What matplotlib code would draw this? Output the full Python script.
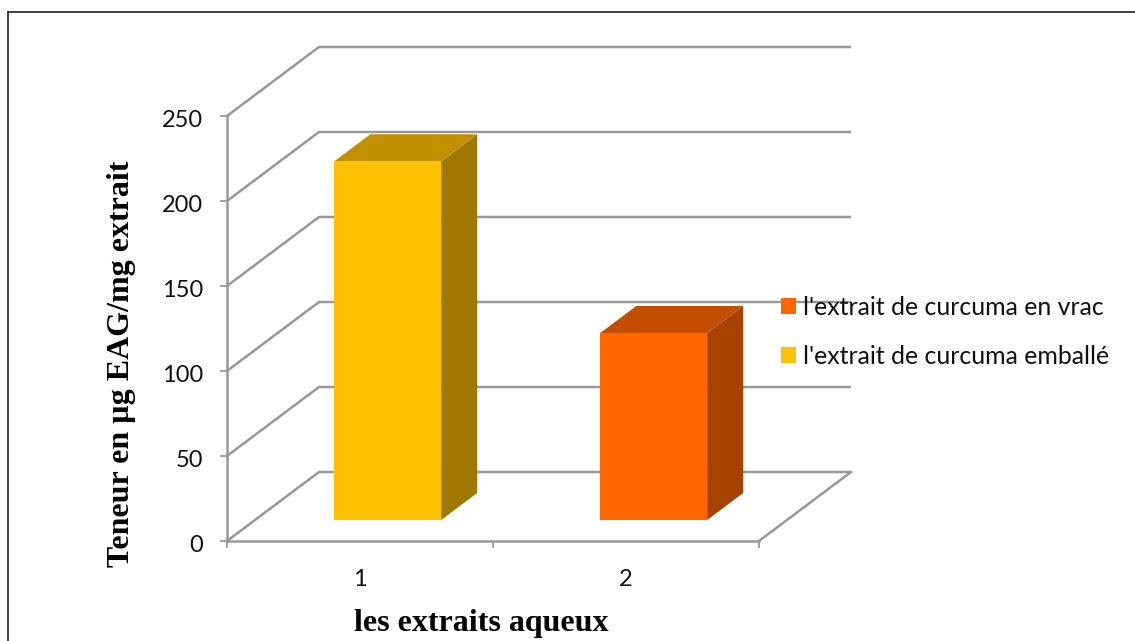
import matplotlib
matplotlib.use('Agg')
import matplotlib.pyplot as plt
from matplotlib.patches import Polygon, Patch
from matplotlib.lines import Line2D
from matplotlib.transforms import ScaledTranslation

categories = ['1', '2']
series_names = ["l'extrait de curcuma en vrac", "l'extrait de curcuma emballé"]
emballe = 211
vrac = 110
y_ticks = [0, 50, 100, 150, 200, 250]

W, H = 1135, 641
grey = '#999999'

fig = plt.figure(figsize=(W / 100, H / 100), dpi=100)
fig.patch.set_facecolor('white')
ax = fig.add_axes([227 / W, 1 - 541 / H, 532 / W, 425 / H])
ax.set_xlim(0, 2)
ax.set_ylim(0, 250)
ax.patch.set_alpha(0)

# oblique offset of the back wall, in data units
depth_x = 92 / 266
depth_y = 69 / 1.7

def project(x, y, d):
    return (x + d * depth_x, y + d * depth_y)

# floor and wall gridlines
for v in y_ticks:
    xs = [0, depth_x, 2 + depth_x]
    ys = [v, v + depth_y, v + depth_y]
    ax.plot(xs, ys, color=grey, lw=1.8, clip_on=False, zorder=1, solid_capstyle='butt')
ax.plot([2, 2 + depth_x], [0, depth_y], color=grey, lw=1.8, clip_on=False, zorder=1)

def draw_bar(pos, value, front, top, side):
    # gap width of 150% gives bars 0.4 wide, centred in the category
    x0 = pos + 0.5 - 0.202
    x1 = pos + 0.5 + 0.2
    d0, d1 = 0.304, 0.696
    # baseline sits on the floor, shifted by the front depth
    front_pts = [project(x0, 0, d0), project(x1, 0, d0), project(x1, value, d0), project(x0, value, d0)]
    top_pts = [project(x0, value, d0), project(x1, value, d0), project(x1, value, d1), project(x0, value, d1)]
    side_pts = [project(x1, 0, d0), project(x1, 0, d1), project(x1, value, d1), project(x1, value, d0)]
    for pts, c in [(side_pts, side), (top_pts, top), (front_pts, front)]:
        ax.add_patch(Polygon(pts, closed=True, facecolor=c, edgecolor='none', clip_on=False, zorder=3))

draw_bar(0, emballe, '#ffc000', '#c09000', '#a07800')
draw_bar(1, vrac, '#ff6600', '#c24e00', '#a64200')

for s in ['top', 'right']:
    ax.spines[s].set_visible(False)
for s in ['left', 'bottom']:
    ax.spines[s].set_color(grey)
    ax.spines[s].set_linewidth(1.8)
    ax.spines[s].set_zorder(2)

ax.set_yticks(y_ticks)
ax.set_xticks([0, 1, 2])
ax.set_xticklabels([])
ax.set_xticks([0.5, 1.5], minor=True)
ax.set_xticklabels(categories, minor=True, fontname='Lato', fontsize=17, color='#111111')
ax.tick_params(axis='x', which='major', length=5, width=1.3, color=grey)
ax.tick_params(axis='x', which='minor', length=0, pad=20)
ax.tick_params(axis='y', length=5, width=1.3, color=grey, pad=12, labelsize=17, labelcolor='#111111')
# nudge the value labels down a little from their ticks
label_shift = ScaledTranslation(0, -1.5 / 72, fig.dpi_scale_trans)
for label in ax.get_yticklabels():
    label.set_fontname('Lato')
    label.set_transform(label.get_transform() + label_shift)

fig.text(481 / W, 1 - 623 / H, 'les extraits aqueux', fontname='Liberation Serif', fontweight='bold',
         fontsize=23, ha='center', va='center')
fig.text(122 / W, 1 - 364 / H, 'Teneur en µg EAG/mg extrait', fontname='Liberation Serif', fontweight='bold',
         fontsize=23, rotation=90, ha='center', va='center')

handles = [Patch(facecolor='#ff6600', edgecolor='none'), Patch(facecolor='#ffc000', edgecolor='none')]
leg = fig.legend(handles, series_names, loc='upper left', bbox_to_anchor=(781 / W, 1 - 296 / H),
                 frameon=False, prop={'family': 'Lato', 'size': 17.9}, handlelength=0.6, handleheight=0.6,
                 handletextpad=0.3, labelspacing=1.05, borderpad=0, borderaxespad=0)
for t in leg.get_texts():
    t.set_color('#111111')

# outer frame lines along the top and left, open on the other sides
frame = '#333333'
fig.add_artist(Line2D([7.5 / W, 7.5 / W], [0, 1 - 11.5 / H], color=frame, lw=1.3))
fig.add_artist(Line2D([7.5 / W, 1], [1 - 11.5 / H, 1 - 11.5 / H], color=frame, lw=1.3))

fig.savefig('out.png', dpi=100)
